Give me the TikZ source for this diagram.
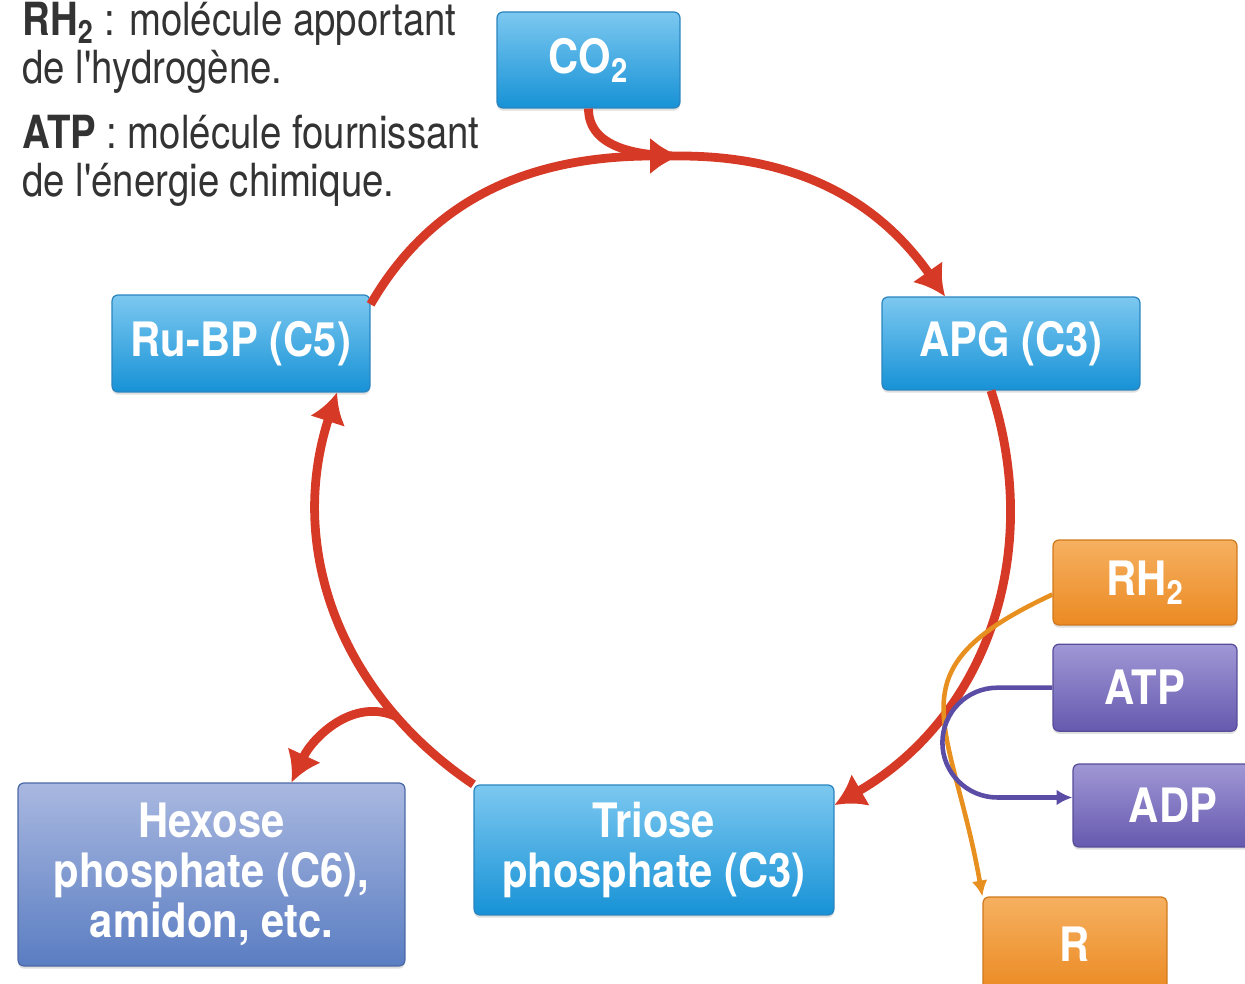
\documentclass[tikz,border=0pt]{standalone}
\usepackage{fontspec}
\setmainfont{TeX Gyre Heros}[FakeStretch=0.88]
\newfontfamily\notefont{TeX Gyre Heros}[FakeStretch=0.84]
\usepackage{xcolor}
\usepackage{tikz}
\usetikzlibrary{arrows.meta,positioning,calc,shadows}
\definecolor{Ink}{HTML}{333333}
\definecolor{BlueTop}{HTML}{7CC8F0}
\definecolor{BlueBot}{HTML}{1792D6}
\definecolor{BlueEdge}{HTML}{2A84BE}
\definecolor{HexTop}{HTML}{A9B8E0}
\definecolor{HexBot}{HTML}{5A7DC2}
\definecolor{HexEdge}{HTML}{4A68A6}
\definecolor{OrangeTop}{HTML}{F6B060}
\definecolor{OrangeBot}{HTML}{EB8A23}
\definecolor{OrangeEdge}{HTML}{D0781C}
\definecolor{PurpleTop}{HTML}{A097D5}
\definecolor{PurpleBot}{HTML}{6659AF}
\definecolor{PurpleEdge}{HTML}{574C9A}
\definecolor{Red}{HTML}{D63A26}
\definecolor{HOrange}{HTML}{E8901F}
\definecolor{EPurple}{HTML}{5B4DA5}
\tikzset{
  mol/.style={rounded corners=1.2mm,draw=BlueEdge,line width=0.7pt,top color=BlueTop,bottom color=BlueBot,text=white,align=center,inner sep=0pt,font=\fontsize{27}{28.5}\selectfont\bfseries,drop shadow={shadow xshift=0pt,shadow yshift=-1.5pt,opacity=0.25}},
  molhex/.style={mol,draw=HexEdge,top color=HexTop,bottom color=HexBot},
  molorange/.style={mol,draw=OrangeEdge,top color=OrangeTop,bottom color=OrangeBot},
  molpurple/.style={mol,draw=PurpleEdge,top color=PurpleTop,bottom color=PurpleBot},
  redline/.style={line width=5pt,draw=Red},
  redarrow/.style={redline,-{Latex[length=17pt,width=21pt]}},
  hline/.style={-{Latex[length=9pt,width=9pt]},line width=2.6pt,draw=HOrange},
  eline/.style={-{Latex[length=9pt,width=9pt]},line width=2.6pt,draw=EPurple},
  note/.style={anchor=north west,inner sep=0pt,align=left,text=Ink,font=\notefont\fontsize{26}{27.2}\selectfont}
}

\begin{document}
\begin{tikzpicture}[x=0.02cm,y=0.02cm]
  \useasboundingbox (0,0) rectangle (1245,984);
  \node[note] (rhnote) at (22,982) {\textbf{RH\textsubscript{2}} : molécule apportant\\de l'hydrogène.};
  \node[note] (atpnote) at (22,869) {\textbf{ATP} : molécule fournissant\\de l'énergie chimique.};
  \node[mol,minimum width=3.66cm,minimum height=1.92cm] (co2) at (588.5,924) {CO\textsubscript{2}};
  \node[mol,minimum width=5.16cm,minimum height=1.86cm] (apg) at (1011,640.5) {APG (C3)};
  \node[mol,minimum width=5.16cm,minimum height=1.94cm] (rubp) at (241,640.5) {Ru-BP (C5)};
  \node[mol,minimum width=7.2cm,minimum height=2.6cm] (triose) at (654,134) {Triose\\phosphate (C3)};
  \node[molhex,minimum width=7.74cm,minimum height=3.66cm] (hexose) at (211.5,109.5) {Hexose\\phosphate (C6),\\amidon, etc.};
  \node[molorange,minimum width=3.68cm,minimum height=1.7cm] (rh2) at (1145,401.5) {RH\textsubscript{2}};
  \node[molpurple,minimum width=3.68cm,minimum height=1.74cm,below=0.36cm of rh2] (atp) {ATP};
  \node[molpurple,minimum width=4cm,minimum height=1.66cm] (adp) at (1173,178.5) {ADP};
  \node[molorange,minimum width=3.68cm,minimum height=1.9cm] (r) at (1075,39.5) {R};
  % cycle
  \coordinate (top) at (680,828);
  \draw[redline] (co2.south) to[out=-90,in=180] (top);
  \draw[redarrow] ($(rubp.north east)+(0,-10)$) to[out=60,in=180] (top);
  \draw[redarrow] (top) to[out=0,in=125] ($(apg.north)+(-66,0)$);
  \draw[redarrow] ($(apg.south)+(-20,0)$) to[out=-72,in=30] ($(triose.east)+(0,45)$);
  \draw[redarrow] (triose.north west) to[out=146,in=-108] coordinate[pos=0.22] (fork) ($(rubp.south)+(96,0)$);
  \draw[redarrow] (fork) to[out=155,in=65] ($(hexose.north)+(80,0)$);
  % hydrogen and energy
  \draw[hline] ($(rh2.west)+(0,-12)$) to[out=205,in=100,looseness=1.5] (r.north west);
  \draw[eline,rounded corners=1.1cm] (atp.west) -- ++(-110,0) |- ($(adp.west)+(0,8)$);
\end{tikzpicture}
\end{document}
